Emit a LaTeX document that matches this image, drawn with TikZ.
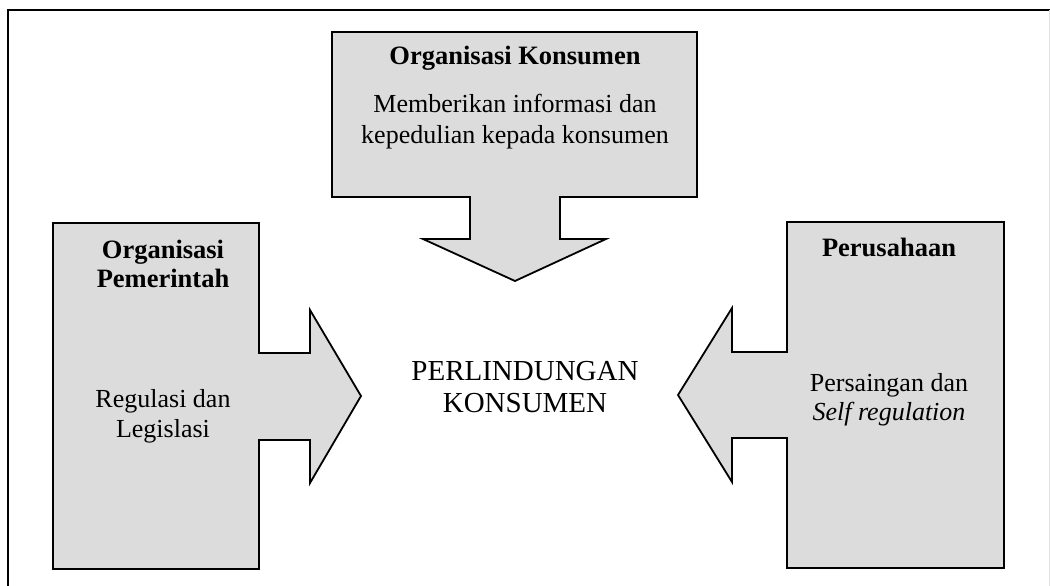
\documentclass[tikz,border=0pt]{standalone}
\usepackage{fontspec}
\setmainfont{Liberation Serif}
\begin{document}
\begin{tikzpicture}[x=1pt,y=-1pt,
  shapebox/.style={draw=black,line width=1.8pt,fill=boxgrey,line join=miter},
  txt/.style={inner sep=0pt,align=center,font=\fontsize{26}{31}\selectfont},
  ttl/.style={inner sep=0pt,align=center,font=\fontsize{26.5}{29}\selectfont\bfseries}]
\definecolor{boxgrey}{HTML}{DCDCDC}
\useasboundingbox (0,0) rectangle (1050,586);
% frame
\draw[line width=2.6pt] (8,586) -- (8,10) -- (1050,10);
\draw[line width=1pt,draw=black!12] (1049,10) -- (1049,586);
% top shape
\draw[shapebox] (332,32) -- (697,32) -- (697,197) -- (560,197) -- (560,239) -- (606,239)
  -- (515,281) -- (423,239) -- (470,239) -- (470,197) -- (332,197) -- cycle;
% left shape
\draw[shapebox] (53,223) -- (259,223) -- (259,353) -- (310,353) -- (310,310) -- (361,396)
  -- (310,483) -- (310,440) -- (259,440) -- (259,569) -- (53,569) -- cycle;
% right shape
\draw[shapebox] (787,222) -- (1004,222) -- (1004,568) -- (787,568) -- (787,438) -- (732,438)
  -- (732,482) -- (678,395) -- (732,308) -- (732,352) -- (787,352) -- cycle;
% texts
\node[ttl,anchor=base] (kt) at (515,65) {Organisasi Konsumen};
\node[txt] (kb) at (515,121.5) {Memberikan informasi dan\\kepedulian kepada konsumen};
\node[ttl] (pt) at (163,264) {Organisasi\\Pemerintah};
\node[txt,font=\fontsize{26}{30}\selectfont] (pb) at (163,416) {Regulasi dan\\Legislasi};
\node[ttl,anchor=base] (rt) at (889,256) {Perusahaan};
\node[txt,font=\fontsize{26}{29}\selectfont] (rb) at (889,399.5) {Persaingan dan\\\textit{Self regulation}};
\node[txt,font=\fontsize{29}{32}\selectfont] (c) at (525,387) {PERLINDUNGAN\\KONSUMEN};
\end{tikzpicture}
\end{document}
